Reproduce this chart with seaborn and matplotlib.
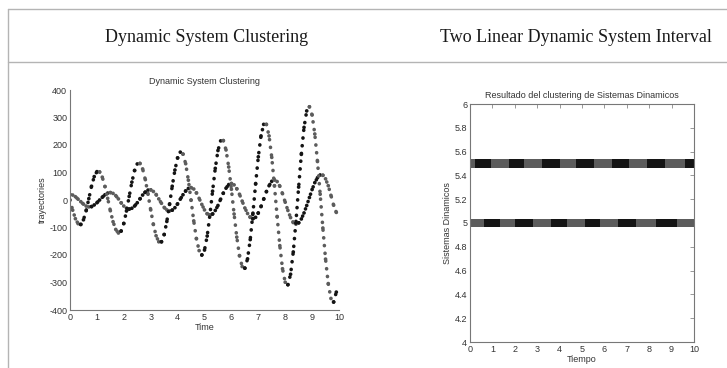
import numpy as np
import pandas as pd
import matplotlib
matplotlib.use('Agg')
import matplotlib.pyplot as plt
import seaborn as sns
from matplotlib.lines import Line2D
from matplotlib.ticker import FormatStrFormatter, MultipleLocator

# muestras (paso de 0.1 s)
time = np.round(np.arange(0, 10, 0.1), 1)

big_wave = [0, -37, -68, -86, -89, -72, -39, 5, 50, 85,
            103, 102, 83, 49, 6, -39, -79, -107, -120, -113,
            -85, -40, 13, 65, 107, 131, 133, 113, 74, 21,
            -36, -89, -130, -152, -152, -126, -78, -16, 50, 109,
            153, 174, 167, 132, 72, -1, -76, -141, -184, -200,
            -182, -131, -55, 32, 115, 180, 215, 216, 182, 120,
            39, -51, -135, -202, -242, -248, -214, -144, -48, 58,
            157, 233, 275, 275, 233, 155, 52, -60, -166, -250,
            -299, -308, -270, -189, -78, 47, 166, 264, 324, 339,
            309, 240, 140, 21, -102, -215, -304, -358, -371, -335]

small_wave = [20, 18, 12, 3, -6, -15, -22, -25, -24, -18,
              -10, 0, 10, 19, 25, 27, 24, 16, 4, -10,
              -22, -30, -33, -30, -22, -10, 4, 18, 29, 36,
              37, 31, 20, 4, -12, -27, -36, -40, -37, -28,
              -14, 3, 19, 33, 42, 45, 40, 26, 6, -16,
              -36, -50, -55, -51, -38, -20, 3, 25, 43, 56,
              60, 55, 41, 21, -4, -29, -49, -63, -68, -63,
              -47, -24, 3, 30, 52, 68, 73, 67, 50, 23,
              -8, -38, -64, -82, -88, -83, -69, -47, -20, 9,
              38, 63, 81, 91, 90, 77, 52, 17, -19, -45]

series_names = ['big', 'small']
band_levels = [5.5, 5.0]

header_left = 'Dynamic System Clustering'
header_right = 'Two Linear Dynamic System Interval'
left_title = 'Dynamic System Clustering'
right_title = 'Resultado del clustering de Sistemas Dinamicos'

pal = {'up': '#141414', 'down': '#5c5c5c'}

# tabla larga con el cluster (subida / bajada) de cada punto
frames = []
for name, vals, lvl in zip(series_names, [big_wave, small_wave], band_levels):
    v = np.array(vals, dtype=float)
    cl = np.where(np.gradient(v) >= 0, 'up', 'down')
    seg = np.concatenate([[0], np.cumsum(cl[1:] != cl[:-1])])
    frames.append(pd.DataFrame({'time': time, 'value': v, 'cluster': cl,
                                'seg': [f'{name}{s}' for s in seg],
                                'level': lvl}))
df = pd.concat(frames, ignore_index=True)

sns.set_style('white')
plt.rcParams['font.family'] = ['Liberation Sans Narrow', 'Liberation Sans', 'DejaVu Sans']
plt.rcParams['axes.unicode_minus'] = False

fig = plt.figure(figsize=(7.27, 3.68), dpi=100)

# lineas de la tabla
line_c = '#b4b4b4'
fig.add_artist(Line2D([8 / 727, 1], [1 - 9 / 368] * 2, color=line_c, lw=1, transform=fig.transFigure))
fig.add_artist(Line2D([8 / 727, 1], [1 - 62 / 368] * 2, color=line_c, lw=1, transform=fig.transFigure))
fig.add_artist(Line2D([8 / 727] * 2, [0, 1 - 9 / 368], color=line_c, lw=1, transform=fig.transFigure))

fig.text(207 / 727, 1 - 37 / 368, header_left, ha='center', va='center',
         fontsize=13, family=['Liberation Serif', 'DejaVu Serif'], color='#1a1a1a')
fig.text(576 / 727, 1 - 37 / 368, header_right, ha='center', va='center',
         fontsize=13, family=['Liberation Serif', 'DejaVu Serif'], color='#1a1a1a')

txt_c = '#333333'

# grafico izquierdo
ax1 = fig.add_axes([70 / 727, 1 - 310 / 368, 269 / 727, 220 / 368])
sns.lineplot(data=df, x='time', y='value', hue='cluster', units='seg', estimator=None,
             palette=pal, linestyle=(0, (0.05, 2.1)), linewidth=2.6, dash_capstyle='round',
             legend=False, sort=False, ax=ax1)
sns.scatterplot(data=df, x='time', y='value', hue='cluster', palette=pal, s=7,
                linewidth=0, legend=False, ax=ax1)
ax1.set_xlim(0, 10)
ax1.set_ylim(-400, 400)
ax1.xaxis.set_major_locator(MultipleLocator(1))
ax1.yaxis.set_major_locator(MultipleLocator(100))
ax1.set_title(left_title, fontsize=6.5, color=txt_c, pad=4)
ax1.set_xlabel('Time', fontsize=6.5, color=txt_c, labelpad=1)
ax1.set_ylabel('trayectories', fontsize=6.5, color=txt_c, labelpad=2)
ax1.tick_params(direction='in', length=3, width=0.6, labelsize=6.5, colors='#888888',
                labelcolor=txt_c, pad=2)
for side in ['top', 'right']:
    ax1.spines[side].set_visible(False)
for side in ['left', 'bottom']:
    ax1.spines[side].set_color('#777777')
    ax1.spines[side].set_linewidth(0.8)

# grafico derecho
ax2 = fig.add_axes([470 / 727, 1 - 342 / 368, 224 / 727, 238 / 368])
sns.scatterplot(data=df, x='time', y='level', hue='cluster', palette=pal, marker='s',
                s=34, linewidth=0, legend=False, ax=ax2)
ax2.set_xlim(0, 10)
ax2.set_ylim(4, 6)
ax2.xaxis.set_major_locator(MultipleLocator(1))
ax2.yaxis.set_major_locator(MultipleLocator(0.2))
ax2.yaxis.set_major_formatter(FormatStrFormatter('%g'))
ax2.set_title(right_title, fontsize=6.5, color=txt_c, pad=4)
ax2.set_xlabel('Tiempo', fontsize=6.5, color=txt_c, labelpad=1)
ax2.set_ylabel('Sistemas Dinamicos', fontsize=6.5, color=txt_c, labelpad=2)
ax2.tick_params(direction='in', length=3, width=0.6, labelsize=6.5, colors='#888888',
                labelcolor=txt_c, pad=2, top=True, right=True)
for side in ax2.spines:
    ax2.spines[side].set_color('#777777')
    ax2.spines[side].set_linewidth(0.8)

fig.savefig('out.png', dpi=100)
